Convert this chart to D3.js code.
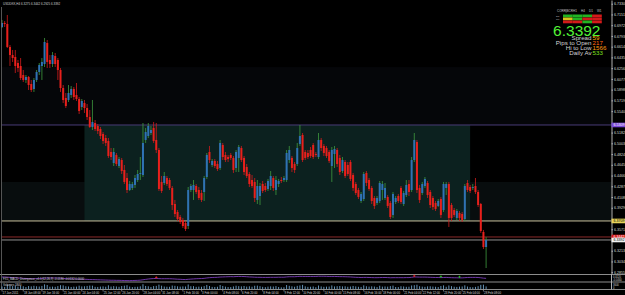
<!DOCTYPE html>
<html>
<head>
<meta charset="utf-8">
<script src="https://cdn.jsdelivr.net/npm/d3@7"></script>
<style>
body { margin: 0; background: #000; }
text { font-family: 'Liberation Sans', Arial, sans-serif; }
</style>
</head>
<body>
<div id="chart"></div>
<script>
var width = 625, height = 295;

var symbol = 'USDDKK,H4';

// H4 candles, oldest first
var open = [
  6.6942, 6.7009, 6.6992, 6.6609, 6.6475, 6.6442, 6.6342, 6.6292, 6.6142, 6.6059,
  6.6109, 6.5992, 6.5909, 6.6059, 6.6192, 6.6292, 6.6325, 6.6675, 6.6392, 6.6325,
  6.6459, 6.6392, 6.6225, 6.5925, 6.5759, 6.5725, 6.5809, 6.5909, 6.5809, 6.5742,
  6.5609, 6.5675, 6.5592, 6.5442, 6.5275, 6.5342, 6.5292, 6.5242, 6.5159, 6.5092,
  6.5042, 6.4859, 6.4675, 6.4809, 6.4625, 6.4725, 6.4559, 6.4425, 6.4225, 6.4259,
  6.4309, 6.4392, 6.4492, 6.4475, 6.5059, 6.5125, 6.5175, 6.5259, 6.5059, 6.4892,
  6.4359, 6.4342, 6.4425, 6.4392, 6.4259, 6.3992, 6.3859, 6.3775, 6.3725, 6.3675,
  6.3625, 6.4225, 6.4225, 6.4292, 6.4225, 6.4175, 6.4192, 6.4442, 6.4859, 6.4642,
  6.4709, 6.4659, 6.4592, 6.4975, 6.4809, 6.4775, 6.4809, 6.4759, 6.4592, 6.4759,
  6.4925, 6.4759, 6.4609, 6.4492, 6.4392, 6.4359, 6.4059, 6.4125, 6.4325, 6.4292,
  6.4242, 6.4292, 6.4425, 6.4225, 6.4325, 6.4392, 6.4392, 6.4392, 6.4725, 6.4759,
  6.4659, 6.4659, 6.4992, 6.5142, 6.4859, 6.4842, 6.4892, 6.4975, 6.4825, 6.4775,
  6.5059, 6.4959, 6.4925, 6.4859, 6.4625, 6.4825, 6.4892, 6.4759, 6.4542, 6.4692,
  6.4642, 6.4692, 6.4475, 6.4325, 6.4225, 6.4042, 6.4075, 6.4509, 6.4392, 6.4259,
  6.4092, 6.4009, 6.4042, 6.4225, 6.4092, 6.4109, 6.4009, 6.3809, 6.4025, 6.4125,
  6.4259, 6.3992, 6.4142, 6.4325, 6.4225, 6.4725, 6.5025, 6.4259, 6.4175, 6.4292,
  6.4342, 6.4192, 6.4092, 6.4009, 6.3959, 6.4075, 6.3892, 6.4259, 6.4325, 6.3975,
  6.3892, 6.3759, 6.3842, 6.3825, 6.3742, 6.4342, 6.4275, 6.4259, 6.4292, 6.4192,
  6.3992, 6.3525, 6.3275
];
var high = [
  6.7059, 6.7042, 6.7142, 6.6642, 6.6559, 6.6559, 6.6392, 6.6425, 6.6225, 6.6142,
  6.6125, 6.6059, 6.6092, 6.6225, 6.6342, 6.6425, 6.6759, 6.6725, 6.6475, 6.6525,
  6.6509, 6.6425, 6.6259, 6.5975, 6.5842, 6.5975, 6.5959, 6.5942, 6.6009, 6.5775,
  6.5742, 6.5725, 6.5659, 6.5559, 6.5725, 6.5392, 6.5325, 6.5275, 6.5192, 6.5142,
  6.5092, 6.4925, 6.4925, 6.4842, 6.4775, 6.4759, 6.4642, 6.4509, 6.4375, 6.4359,
  6.4475, 6.4559, 6.4775, 6.5342, 6.5259, 6.5342, 6.5292, 6.5359, 6.5342, 6.4925,
  6.4459, 6.4525, 6.4459, 6.4425, 6.4292, 6.4059, 6.3892, 6.3809, 6.3759, 6.3709,
  6.4275, 6.4325, 6.4392, 6.4325, 6.4275, 6.4225, 6.4459, 6.4842, 6.4959, 6.4742,
  6.4742, 6.4709, 6.5059, 6.5009, 6.4859, 6.4809, 6.4842, 6.4792, 6.4892, 6.4975,
  6.4959, 6.4792, 6.4659, 6.4525, 6.4475, 6.4425, 6.4392, 6.4342, 6.4375, 6.4342,
  6.4409, 6.4542, 6.4459, 6.4459, 6.4409, 6.4442, 6.4459, 6.4892, 6.4959, 6.4792,
  6.4692, 6.5009, 6.5309, 6.5175, 6.4892, 6.4892, 6.4942, 6.5009, 6.4859, 6.5175,
  6.5092, 6.4992, 6.4959, 6.4892, 6.4942, 6.4959, 6.4925, 6.4809, 6.4775, 6.4725,
  6.4692, 6.4725, 6.4509, 6.4359, 6.4259, 6.4192, 6.4525, 6.4542, 6.4425, 6.4292,
  6.4125, 6.4125, 6.4375, 6.4375, 6.4342, 6.4142, 6.4042, 6.4192, 6.4125, 6.4159,
  6.4292, 6.4209, 6.4392, 6.4392, 6.4775, 6.5175, 6.5059, 6.4309, 6.4359, 6.4442,
  6.4375, 6.4225, 6.4125, 6.4042, 6.4075, 6.4109, 6.4359, 6.4359, 6.4359, 6.4009,
  6.3925, 6.3909, 6.3875, 6.3859, 6.4325, 6.4392, 6.4309, 6.4325, 6.4425, 6.4225,
  6.4009, 6.3559, 6.3442
];
var low = [
  6.6925, 6.6942, 6.6592, 6.6292, 6.6359, 6.6175, 6.6192, 6.6059, 6.6025, 6.6009,
  6.5892, 6.5859, 6.5859, 6.6025, 6.6142, 6.6059, 6.6275, 6.6259, 6.6259, 6.6275,
  6.6275, 6.6059, 6.5859, 6.5675, 6.5592, 6.5692, 6.5759, 6.5725, 6.5709, 6.5492,
  6.5559, 6.5509, 6.5392, 6.5259, 6.5225, 6.5209, 6.5159, 6.5075, 6.4992, 6.4959,
  6.4759, 6.4725, 6.4625, 6.4625, 6.4592, 6.4492, 6.4325, 6.4175, 6.4209, 6.4225,
  6.4259, 6.4359, 6.4392, 6.4442, 6.5009, 6.5092, 6.5142, 6.5009, 6.4842, 6.4209,
  6.4175, 6.4309, 6.4292, 6.4225, 6.3892, 6.3775, 6.3709, 6.3659, 6.3592, 6.3542,
  6.3575, 6.4192, 6.4059, 6.4159, 6.4059, 6.4025, 6.4042, 6.4409, 6.4675, 6.4609,
  6.4592, 6.4542, 6.4559, 6.4725, 6.4692, 6.4692, 6.4725, 6.4509, 6.4525, 6.4525,
  6.4692, 6.4475, 6.4425, 6.4275, 6.4259, 6.4025, 6.3992, 6.3975, 6.4175, 6.4192,
  6.4209, 6.4225, 6.4209, 6.4142, 6.4275, 6.4342, 6.4359, 6.4359, 6.4675, 6.4525,
  6.4509, 6.4625, 6.4959, 6.4692, 6.4725, 6.4742, 6.4759, 6.4742, 6.4775, 6.4742,
  6.4875, 6.4792, 6.4759, 6.4675, 6.4359, 6.4592, 6.4609, 6.4475, 6.4509, 6.4425,
  6.4459, 6.4375, 6.4209, 6.4142, 6.4075, 6.4009, 6.4042, 6.4292, 6.4209, 6.3992,
  6.3909, 6.3975, 6.4009, 6.4059, 6.4059, 6.3925, 6.3742, 6.3759, 6.3992, 6.4009,
  6.3992, 6.3959, 6.4109, 6.4125, 6.4192, 6.4692, 6.4175, 6.4009, 6.4142, 6.4259,
  6.4092, 6.3925, 6.3892, 6.3875, 6.3942, 6.3759, 6.3859, 6.4142, 6.3609, 6.3709,
  6.3775, 6.3725, 6.3709, 6.3692, 6.3709, 6.4192, 6.4175, 6.4225, 6.4159, 6.3942,
  6.3509, 6.3242, 6.2925
];
var close = [
  6.7009, 6.6992, 6.6609, 6.6475, 6.6425, 6.6292, 6.6259, 6.6092, 6.6059, 6.6109,
  6.5975, 6.5892, 6.6059, 6.6192, 6.6309, 6.6359, 6.6692, 6.6359, 6.6325, 6.6475,
  6.6325, 6.6225, 6.5925, 6.5725, 6.5625, 6.5842, 6.5909, 6.5775, 6.5742, 6.5542,
  6.5709, 6.5592, 6.5442, 6.5275, 6.5359, 6.5242, 6.5209, 6.5125, 6.5042, 6.5009,
  6.4792, 6.4775, 6.4859, 6.4659, 6.4742, 6.4542, 6.4359, 6.4225, 6.4325, 6.4325,
  6.4425, 6.4492, 6.4509, 6.5009, 6.5192, 6.5292, 6.5225, 6.5042, 6.4892, 6.4242,
  6.4209, 6.4459, 6.4325, 6.4259, 6.3975, 6.3825, 6.3742, 6.3692, 6.3625, 6.3575,
  6.4225, 6.4292, 6.4309, 6.4192, 6.4092, 6.4059, 6.4425, 6.4809, 6.4725, 6.4709,
  6.4625, 6.4575, 6.5009, 6.4775, 6.4725, 6.4742, 6.4759, 6.4559, 6.4859, 6.4942,
  6.4725, 6.4525, 6.4459, 6.4325, 6.4292, 6.4092, 6.4292, 6.4292, 6.4209, 6.4225,
  6.4375, 6.4459, 6.4259, 6.4392, 6.4375, 6.4375, 6.4425, 6.4842, 6.4892, 6.4592,
  6.4559, 6.4925, 6.5125, 6.4725, 6.4759, 6.4775, 6.4792, 6.4775, 6.4809, 6.5059,
  6.4925, 6.4842, 6.4792, 6.4709, 6.4892, 6.4909, 6.4659, 6.4525, 6.4725, 6.4459,
  6.4492, 6.4409, 6.4259, 6.4175, 6.4109, 6.4159, 6.4492, 6.4342, 6.4242, 6.4042,
  6.3959, 6.4092, 6.4342, 6.4325, 6.4259, 6.3959, 6.3775, 6.4159, 6.4092, 6.4042,
  6.4025, 6.4175, 6.4309, 6.4192, 6.4725, 6.5059, 6.4225, 6.4059, 6.4325, 6.4409,
  6.4142, 6.3975, 6.3942, 6.3909, 6.4042, 6.3809, 6.4325, 6.4325, 6.3759, 6.3759,
  6.3809, 6.3875, 6.3759, 6.3725, 6.4292, 6.4225, 6.4209, 6.4275, 6.4192, 6.3975,
  6.3542, 6.3275, 6.3392
];

var volume = [
  1820, 1540, 3280, 2710, 2040, 2480, 1690, 2350, 1980, 1420,
  2130, 1870, 2290, 1950, 1760, 2220, 3350, 2880, 1640, 1730,
  1580, 2060, 2740, 2590, 1930, 1810, 1470, 1690, 1720, 2380,
  1860, 1940, 2210, 2460, 2390, 1570, 1490, 1730, 1880, 1650,
  2620, 1760, 2040, 1830, 1590, 2110, 2370, 2690, 1740, 1380,
  1560, 1620, 1920, 3440, 2190, 1950, 1480, 2070, 2260, 3170,
  2380, 1770, 1640, 1590, 2480, 2280, 1920, 1710, 1860, 1790,
  3260, 1990, 2030, 1560, 1710, 1640, 2050, 2910, 2140, 1530,
  1480, 1620, 2870, 2180, 1690, 1420, 1380, 1840, 2360, 2040,
  1870, 2150, 1720, 1930, 1650, 2340, 2430, 2010, 1570, 1320,
  1710, 1890, 1760, 2070, 1460, 1180, 1270, 2850, 2280, 1940,
  1630, 2270, 2540, 2960, 1880, 1520, 1610, 1790, 1290, 2490,
  1840, 1570, 1690, 1750, 2560, 1830, 2020, 2150, 1870, 1940,
  1610, 1770, 2190, 1850, 1590, 1480, 2610, 1960, 1700, 1920,
  1750, 1390, 2350, 1720, 1830, 1690, 2080, 2420, 1450, 1380,
  1960, 1820, 1570, 1640, 2530, 2740, 3080, 1990, 1710, 1560,
  1870, 1930, 1740, 1620, 1410, 2120, 2610, 1590, 2530, 2040,
  1620, 1480, 1700, 1810, 2640, 1770, 1390, 1260, 1520, 2010,
  2980, 3120, 1840
];

var macd = [
  -0.004, -0.004, -0.006, -0.008, -0.010, -0.012, -0.014, -0.016, -0.018, -0.019,
  -0.021, -0.022, -0.022, -0.021, -0.020, -0.019, -0.016, -0.015, -0.015, -0.014,
  -0.014, -0.015, -0.017, -0.019, -0.021, -0.022, -0.023, -0.024, -0.025, -0.026,
  -0.027, -0.028, -0.029, -0.031, -0.031, -0.032, -0.033, -0.034, -0.035, -0.036,
  -0.037, -0.038, -0.038, -0.039, -0.039, -0.040, -0.041, -0.042, -0.042, -0.041,
  -0.040, -0.039, -0.037, -0.033, -0.029, -0.025, -0.022, -0.020, -0.019, -0.021,
  -0.022, -0.022, -0.022, -0.022, -0.023, -0.025, -0.027, -0.028, -0.030, -0.031,
  -0.028, -0.026, -0.024, -0.022, -0.021, -0.020, -0.018, -0.014, -0.011, -0.009,
  -0.008, -0.007, -0.004, -0.003, -0.002, -0.001, 0.000, -0.001, 0.001, 0.002,
  0.002, 0.001, -0.001, -0.003, -0.004, -0.006, -0.007, -0.007, -0.008, -0.008,
  -0.008, -0.007, -0.007, -0.007, -0.006, -0.006, -0.006, -0.003, -0.001, -0.001,
  -0.001, 0.001, 0.003, 0.002, 0.002, 0.002, 0.002, 0.002, 0.002, 0.004,
  0.004, 0.004, 0.003, 0.002, 0.002, 0.002, 0.001, 0.000, 0.000, -0.001,
  -0.002, -0.003, -0.005, -0.007, -0.008, -0.009, -0.008, -0.008, -0.009, -0.010,
  -0.011, -0.011, -0.010, -0.009, -0.009, -0.010, -0.012, -0.011, -0.011, -0.011,
  -0.011, -0.011, -0.010, -0.010, -0.007, -0.003, -0.004, -0.005, -0.005, -0.005,
  -0.006, -0.007, -0.008, -0.009, -0.009, -0.010, -0.009, -0.008, -0.010, -0.011,
  -0.012, -0.012, -0.013, -0.013, -0.011, -0.009, -0.008, -0.008, -0.008, -0.009,
  -0.012, -0.016, -0.018
];
var bearDivBars = [58, 155];
var bullDivBars = [165, 172];

var priceTicks = [
  6.7330, 6.7151, 6.6972, 6.6793, 6.6614, 6.6435, 6.6256, 6.6077, 6.5898, 6.5719,
  6.5540, 6.5361, 6.5182, 6.5003, 6.4824, 6.4645, 6.4466, 6.4287, 6.4108, 6.3929,
  6.3750, 6.3571, 6.3392, 6.3213, 6.3034, 6.2855
];

var timeLabels = [
  '17 Jan 2011', '18 Jan 08:00', '19 Jan 16:00', '21 Jan 00:00', '24 Jan 04:00',
  '25 Jan 12:00', '26 Jan 20:00', '28 Jan 04:00', '31 Jan 08:00', '1 Feb 16:00',
  '3 Feb 00:00', '4 Feb 08:00', '6 Feb 20:00', '8 Feb 04:00', '9 Feb 12:00',
  '10 Feb 20:00', '14 Feb 00:00', '15 Feb 08:00', '16 Feb 16:00', '18 Feb 00:00',
  '21 Feb 04:00', '22 Feb 12:00', '23 Feb 20:00', '25 Feb 04:00', '28 Feb 08:00'
];
var timeLabelBars = [0, 8, 15, 23, 30, 38, 45, 53, 60, 68, 75, 83, 90, 98, 106, 113, 121, 128, 136, 143, 151, 158, 166, 173, 181];

// range box and zones
var boxStart = 31, boxEnd = 176;
var boxTop = 6.5309, boxBottom = 6.3709;
var upperZone = [6.6275, 6.5309];
var lowerZone = [6.4359, 6.3709];
var ask = 6.3442, bid = 6.3392;

// info panel
var signalCols = ['H1', 'H4', 'D1', 'W1'];
var signalRows = [[1, 1, 1, -1], [0, 1, -1, -1], [-1, -1, 1, -1]];
var signalNames = ['Sig', 'Trd'];
var statLabels = ['Spread', 'Pips to Open', 'Hi to Low', 'Daily Av'];
var statValues = ['59', '217', '1566', '533'];

var plotRight = 611.5;
var mainBottom = 274;

var svg = d3.select('#chart')
    .append('svg')
    .attr('width', width)
    .attr('height', height)
    .style('display', 'block')
    .style('background', '#000');

var x = d3.scaleLinear()
    .domain([0, close.length - 1])
    .range([2, 486.1]);

var y = d3.scaleLinear()
    .domain([6.7392, 6.2825])
    .range([0, mainBottom]);

var macdY = d3.scaleLinear().domain([0.012, -0.046]).range([275.5, 281]);
var volY = d3.scaleLinear().domain([0, 3600]).range([289, 284]);

// zones behind everything
function zone(z, x0, x1, fill) {
    svg.append('rect')
        .attr('x', x0).attr('width', x1 - x0)
        .attr('y', y(z[0])).attr('height', y(z[1]) - y(z[0]))
        .attr('fill', fill);
}
zone(upperZone, 1.5, plotRight, '#050609');
zone(lowerZone, 1.5, plotRight, '#080d0e');
zone([boxTop, boxBottom], x(boxStart), x(boxEnd), '#0c211f');

// horizontal levels
function level(v, color) {
    svg.append('line')
        .attr('x1', 1.5).attr('x2', plotRight)
        .attr('y1', y(v)).attr('y2', y(v))
        .attr('stroke', color).attr('stroke-width', 1);
}
level(boxTop, '#4a3c78');
level(boxBottom, '#c8c09c');
level(ask, '#8a2a2a');
level(bid, '#8e8e8e');

svg.append('clipPath').attr('id', 'mainClip')
    .append('rect').attr('x', 0).attr('y', 0).attr('width', plotRight).attr('height', mainBottom);

var candles = svg.append('g').attr('clip-path', 'url(#mainClip)')
    .selectAll('g')
    .data(close)
    .enter()
    .append('g');

candles.append('line')
    .attr('x1', function(d, i) { return x(i); })
    .attr('x2', function(d, i) { return x(i); })
    .attr('y1', function(d, i) { return y(high[i]); })
    .attr('y2', function(d, i) { return y(low[i]); })
    .attr('stroke', function(d, i) { return close[i] >= open[i] ? '#3f9a3f' : '#d41c1c'; })
    .attr('stroke-width', 0.8);

candles.append('rect')
    .attr('x', function(d, i) { return x(i) - 1; })
    .attr('width', 2)
    .attr('y', function(d, i) { return y(Math.max(open[i], close[i])); })
    .attr('height', function(d, i) { return Math.max(0.8, Math.abs(y(open[i]) - y(close[i]))); })
    .attr('fill', function(d, i) { return close[i] >= open[i] ? '#2f72b4' : '#e8201c'; });

// price tags on the axis (they hide the tick labels underneath)
var tags = [
    { v: boxTop, fill: '#7a48d8', color: '#fff' },
    { v: boxBottom, fill: '#e8d45a', color: '#000' },
    { v: ask, fill: '#d81414', color: '#fff' },
    { v: bid, fill: '#f2f2f2', color: '#000' }
];
var visibleTicks = priceTicks.filter(function(t) {
    return tags.every(function(g) { return Math.abs(y(t) - y(g.v)) > 4.2; });
});

// price axis
var axis = svg.append('g')
    .attr('transform', 'translate(' + plotRight + ',0)')
    .call(d3.axisRight(y).tickValues(visibleTicks).tickFormat(d3.format('.4f')).tickSize(1.5).tickSizeOuter(0).tickPadding(1));
axis.select('.domain').attr('stroke', '#b0b0b0');
axis.selectAll('.tick line').attr('stroke', '#b0b0b0');
axis.selectAll('.tick text').attr('fill', '#d8d8d8').style('font-size', '3.6px');

var tag = svg.selectAll('.tag').data(tags).enter().append('g').attr('class', 'tag');
tag.append('rect')
    .attr('x', plotRight).attr('width', width - plotRight)
    .attr('y', function(d) { return y(d.v) - 2.3; }).attr('height', 4.6)
    .attr('fill', function(d) { return d.fill; });
tag.append('text')
    .attr('x', plotRight + 2).attr('y', function(d) { return y(d.v) + 1.3; })
    .attr('fill', function(d) { return d.color; })
    .style('font-size', '3.6px')
    .text(function(d) { return d.v.toFixed(4); });

// separators
[mainBottom + 0.5, 282, 289.5].forEach(function(sy) {
    svg.append('line').attr('x1', 0).attr('x2', width).attr('y1', sy).attr('y2', sy)
        .attr('stroke', '#8c8c8c').attr('stroke-width', 1);
});
svg.append('line').attr('x1', 1.5).attr('x2', 1.5).attr('y1', 7).attr('y2', 289.5)
    .attr('stroke', '#6a6a6a').attr('stroke-width', 0.8);
svg.append('line').attr('x1', plotRight).attr('x2', plotRight).attr('y1', mainBottom).attr('y2', 289.5)
    .attr('stroke', '#b0b0b0').attr('stroke-width', 1);

// MACD pane
svg.append('path')
    .datum(macd)
    .attr('fill', 'none')
    .attr('stroke', '#8a44d0')
    .attr('stroke-width', 0.8)
    .attr('d', d3.line().x(function(d, i) { return x(i); }).y(function(d) { return macdY(d); }));

function cross(bars, color) {
    bars.forEach(function(b) {
        var cx = x(b), cy = macdY(macd[b]) - 1;
        svg.append('path')
            .attr('d', 'M' + (cx - 1.2) + ',' + cy + 'H' + (cx + 1.2) + 'M' + cx + ',' + (cy - 1.2) + 'V' + (cy + 1.2))
            .attr('stroke', color).attr('stroke-width', 0.7);
    });
}
cross(bearDivBars, '#ff2a2a');
cross(bullDivBars, '#2ad02a');

svg.append('text').attr('x', 3).attr('y', 279.6).attr('fill', '#d0d0d0').style('font-size', '2.9px')
    .text('FX5_MACD_Divergence_v1.1(12,26,9) ' + macd[macd.length - 1].toFixed(4) + ' -0.0132 0.0000');
svg.append('text').attr('x', plotRight + 1.5).attr('y', 278).attr('fill', '#d0d0d0').style('font-size', '2.6px').text('0.0120');
svg.append('text').attr('x', plotRight + 1.5).attr('y', 281.3).attr('fill', '#d0d0d0').style('font-size', '2.6px').text('-0.0460');

// volume pane
svg.append('g').selectAll('line')
    .data(volume)
    .enter()
    .append('line')
    .attr('x1', function(d, i) { return x(i); })
    .attr('x2', function(d, i) { return x(i); })
    .attr('y1', volY(0))
    .attr('y2', function(d) { return volY(d); })
    .attr('stroke', '#6fa3cb')
    .attr('stroke-width', 0.9);

svg.append('text').attr('x', 3).attr('y', 286.2).attr('fill', '#d0d0d0').style('font-size', '2.9px')
    .text('Volumes ' + volume[volume.length - 1]);
svg.append('text').attr('x', plotRight + 1.5).attr('y', 285.5).attr('fill', '#d0d0d0').style('font-size', '2.6px').text('3600');
svg.append('text').attr('x', plotRight + 1.5).attr('y', 289).attr('fill', '#d0d0d0').style('font-size', '2.6px').text('0');

// time axis
var tl = svg.append('g').selectAll('g')
    .data(timeLabels)
    .enter()
    .append('g');
tl.append('line')
    .attr('x1', function(d, i) { return x(timeLabelBars[i]); })
    .attr('x2', function(d, i) { return x(timeLabelBars[i]); })
    .attr('y1', 289.5).attr('y2', 291.5)
    .attr('stroke', '#b0b0b0').attr('stroke-width', 0.6);
tl.append('text')
    .attr('x', function(d, i) { return x(timeLabelBars[i]) + 0.6; })
    .attr('y', 294.2)
    .attr('fill', '#d8d8d8')
    .style('font-size', '2.9px')
    .text(function(d) { return d; });

// header
var n = close.length - 1;
svg.append('text').attr('x', 3).attr('y', 4.6).attr('fill', '#cfcfcf').style('font-size', '3px')
    .text(symbol + '  ' + [open[n], high[n], low[n], close[n]].map(function(v) { return v.toFixed(4); }).join(' '));

// info panel
var info = svg.append('g');
info.append('text').attr('x', 557).attr('y', 12).attr('fill', '#c8c8c8').style('font-size', '3px').text('CORR|BCR');
info.selectAll('.col').data(signalCols).enter().append('text')
    .attr('x', function(d, i) { return 573 + i * 8; }).attr('y', 12)
    .attr('fill', '#c8c8c8').style('font-size', '3px')
    .text(function(d) { return d; });
signalNames.forEach(function(name, r) {
    info.append('text').attr('x', 556).attr('y', 16.9 + r * 3).attr('fill', '#bdbdbd').style('font-size', '2.2px')
        .text(name);
});
signalRows.forEach(function(row, r) {
    row.forEach(function(s, c) {
        info.append('rect')
            .attr('x', 563 + c * 9.7).attr('width', 9.7)
            .attr('y', 14.5 + r * 3).attr('height', 2.8)
            .attr('fill', s > 0 ? '#22b422' : (s < 0 ? '#d41a1a' : '#d8c21a'));
    });
});
info.append('text')
    .attr('x', 600.5).attr('y', 35.6)
    .attr('text-anchor', 'end')
    .attr('fill', '#52f236')
    .style('font-size', '15.5px')
    .text(bid.toFixed(4));
var statColors = ['#ffb000', '#ff6a10', '#ff9a10', '#7ee01e'];
statLabels.forEach(function(lbl, i) {
    info.append('text').attr('x', 591.5).attr('y', 40.2 + i * 4.9).attr('text-anchor', 'end')
        .attr('fill', '#d4d4d4').style('font-size', '6.2px').text(lbl);
    info.append('text').attr('x', 592.6).attr('y', 40.2 + i * 4.9)
        .attr('fill', statColors[i]).style('font-size', '6.2px').text(statValues[i]);
});
</script>
</body>
</html>
